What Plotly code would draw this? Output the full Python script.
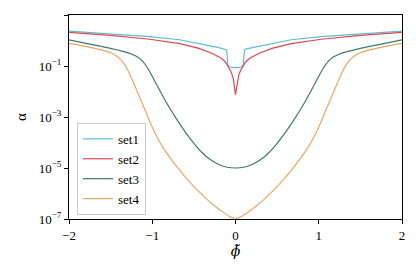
import plotly.graph_objects as go

# ---- data ----
x1 = [-2, -1.5, -1.03, -0.67, -0.45, -0.29, -0.2, -0.13, -0.108, -0.102, -0.098, -0.093, -0.085, -0.07, -0.04, 0,
      0.04, 0.07, 0.085, 0.093, 0.098, 0.102, 0.108, 0.13, 0.2, 0.29, 0.45, 0.67, 1.03, 1.5, 2]
set1 = [2.34, 1.86, 1.41, 1.07, 0.794, 0.603, 0.525, 0.468, 0.427, 0.282, 0.158, 0.117, 0.102, 0.0933, 0.0871, 0.0851,
        0.0871, 0.0933, 0.102, 0.117, 0.158, 0.282, 0.427, 0.468, 0.525, 0.603, 0.794, 1.07, 1.41, 1.86, 2.34]

x2 = [-2, -1.5, -1.03, -0.67, -0.45, -0.29, -0.17, -0.12, -0.088, -0.06, -0.04, -0.025, -0.016, -0.008, 0,
      0.008, 0.016, 0.025, 0.04, 0.06, 0.088, 0.12, 0.17, 0.29, 0.45, 0.67, 1.03, 1.5, 2]
set2 = [2.09, 1.58, 1.12, 0.759, 0.501, 0.324, 0.200, 0.141, 0.0933, 0.0661, 0.0447, 0.0302, 0.0178, 0.0112, 0.00759,
        0.0112, 0.0178, 0.0302, 0.0447, 0.0661, 0.0933, 0.141, 0.200, 0.324, 0.501, 0.759, 1.12, 1.58, 2.09]

x3 = [-2, -1.75, -1.5, -1.35, -1.25, -1.18, -1.12, -1.06, -1.0, -0.9, -0.8, -0.7, -0.6, -0.5, -0.4, -0.3, -0.2, -0.1, 0,
      0.1, 0.2, 0.3, 0.4, 0.5, 0.6, 0.7, 0.8, 0.9, 1.0, 1.06, 1.12, 1.18, 1.25, 1.35, 1.5, 1.75, 2]
set3 = [1.05, 0.724, 0.490, 0.372, 0.295, 0.229, 0.158, 0.0871, 0.0398, 0.00955, 0.00251, 7.59e-4, 2.51e-4, 9.33e-5,
        3.98e-5, 2.09e-5, 1.38e-5, 1.07e-5, 1.0e-5,
        1.07e-5, 1.38e-5, 2.09e-5, 3.98e-5, 9.33e-5, 2.51e-4, 7.59e-4, 0.00251, 0.00955, 0.0398, 0.0871, 0.158, 0.229,
        0.295, 0.372, 0.490, 0.724, 1.05]

x4 = [-2, -1.8, -1.6, -1.5, -1.45, -1.4, -1.35, -1.3, -1.25, -1.2, -1.1, -1.0, -0.92, -0.85, -0.74, -0.63, -0.53,
      -0.43, -0.33, -0.23, -0.15, -0.07, 0,
      0.07, 0.15, 0.23, 0.33, 0.43, 0.53, 0.63, 0.74, 0.85, 0.92, 1.0, 1.1, 1.2, 1.25, 1.3, 1.35, 1.4, 1.45, 1.5,
      1.6, 1.8, 2]
set4 = [0.776, 0.589, 0.417, 0.331, 0.275, 0.209, 0.138, 0.0759, 0.0339, 0.0141, 0.00240, 3.98e-4, 1.20e-4, 5.01e-5,
        1.58e-5, 5.62e-6, 2.40e-6, 1.10e-6, 5.37e-7, 2.88e-7, 1.86e-7, 1.26e-7, 1.0e-7,
        1.26e-7, 1.86e-7, 2.88e-7, 5.37e-7, 1.10e-6, 2.40e-6, 5.62e-6, 1.58e-5, 5.01e-5, 1.20e-4, 3.98e-4, 0.00240,
        0.0141, 0.0339, 0.0759, 0.138, 0.209, 0.275, 0.331, 0.417, 0.589, 0.776]

names = ["set1", "set2", "set3", "set4"]
colors = ["#5bbdd6", "#e2474f", "#3f7a6b", "#eea463"]
shapes = ["linear", "linear", "spline", "spline"]

ytickvals = [1e-7, 1e-5, 1e-3, 1e-1, 1e1]
yticktext = ["10<sup>\u22127</sup>", "10<sup>\u22125</sup>", "10<sup>\u22123</sup>", "10<sup>\u22121</sup>", "10<sup>1</sup>"]
xtickvals = [-2, -1, 0, 1, 2]
xticktext = ["\u22122", "\u22121", "0", "1", "2"]

FONT = "Liberation Serif"

fig = go.Figure()
for xs, ys, nm, c, sh in zip([x1, x2, x3, x4], [set1, set2, set3, set4], names, colors, shapes):
    line = dict(color=c, width=1.2, shape=sh)
    if sh == "spline":
        line["smoothing"] = 0.5
    fig.add_trace(go.Scatter(x=xs, y=ys, mode="lines", name=nm, line=line))

# page body adds an 8px offset, so the figure is sized to fit the 416x276 window
fig.update_layout(
    width=408, height=268,
    margin=dict(l=61, r=14, t=7, b=57),
    paper_bgcolor="white", plot_bgcolor="white",
    font=dict(family=FONT, size=13, color="black"),
    showlegend=True,
    legend=dict(x=0.024, y=0.02, xanchor="left", yanchor="bottom",
                bgcolor="rgba(255,255,255,0.85)", bordercolor="#cccccc", borderwidth=1,
                font=dict(family=FONT, size=13), tracegroupgap=0),
)
fig.update_xaxes(range=[-2, 2], tickvals=xtickvals, ticktext=xticktext,
                 showline=True, linecolor="black", linewidth=1, mirror=True,
                 ticks="outside", ticklen=4, tickcolor="black", showgrid=False, zeroline=False,
                 title=dict(text="<i>\u03d5\u0303</i>", font=dict(family="DejaVu Serif", size=14), standoff=4))
fig.update_yaxes(type="log", range=[-7, 1], tickvals=ytickvals, ticktext=yticktext,
                 showline=True, linecolor="black", linewidth=1, mirror=True,
                 ticks="outside", ticklen=4, tickcolor="black", showgrid=False, zeroline=False,
                 title=dict(text="\u03b1", font=dict(family=FONT, size=15), standoff=8))

fig.write_html("out.html")
